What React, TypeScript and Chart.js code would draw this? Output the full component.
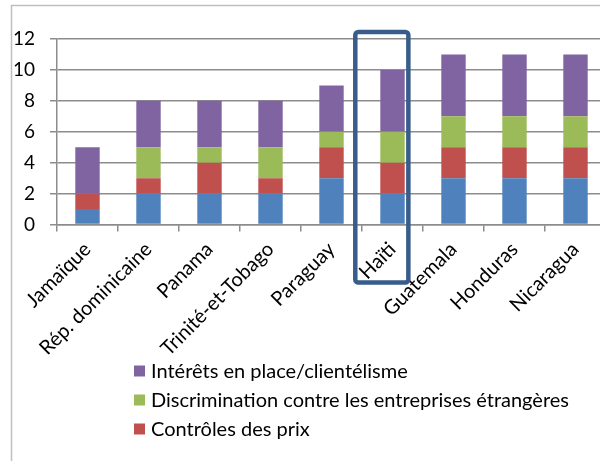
import React, { useEffect, useRef } from "react";
import { Chart, registerables } from "chart.js";

Chart.register(...registerables);

const categories = [
  "Jamaïque",
  "Rép. dominicaine",
  "Panama",
  "Trinité-et-Tobago",
  "Paraguay",
  "Haïti",
  "Guatemala",
  "Honduras",
  "Nicaragua",
];

const seriesNames = [
  "Autres obstacles",
  "Contrôles des prix",
  "Discrimination contre les entreprises étrangères",
  "Intérêts en place/clientélisme",
];

const autresObstacles = [1, 2, 2, 2, 3, 2, 3, 3, 3];
const controlesPrix = [1, 1, 2, 1, 2, 2, 2, 2, 2];
const discrimination = [0, 2, 1, 2, 1, 2, 2, 2, 2];
const interetsClientelisme = [3, 3, 3, 3, 3, 4, 4, 4, 4];

const yTicks = [0, 2, 4, 6, 8, 10, 12];
const highlighted = "Haïti";

const colors = ["#4F81BD", "#C0504D", "#9BBB59", "#8064A2"];
const FONT = "Lato, 'Open Sans', sans-serif";
const GRID = "#8C8C8C";

const framePlugin = {
  id: "frame",
  beforeDraw(chart: any) {
    const ctx = chart.ctx;
    ctx.save();
    ctx.strokeStyle = "#BFBFBF";
    ctx.lineWidth = 1.5;
    ctx.strokeRect(11.5, 5.5, chart.width + 20, chart.height + 20);
    ctx.restore();
  },
};

const highlightPlugin = {
  id: "highlight",
  afterDraw(chart: any) {
    const x = chart.scales.x;
    const y = chart.scales.y;
    const idx = categories.indexOf(highlighted);
    if (idx < 0) return;
    const cx = x.getPixelForValue(idx);
    const w = (x.right - x.left) / categories.length;
    const left = cx - 0.61 * w;
    const right = cx + 0.26 * w;
    const top = y.getPixelForValue(12) - 7;
    const bottom = y.getPixelForValue(0) + 58;
    const ctx = chart.ctx;
    ctx.save();
    ctx.strokeStyle = "#385D8A";
    ctx.lineWidth = 4.5;
    ctx.lineJoin = "round";
    ctx.beginPath();
    const r = 3;
    ctx.moveTo(left + r, top);
    ctx.lineTo(right - r, top);
    ctx.arcTo(right, top, right, top + r, r);
    ctx.lineTo(right, bottom - r);
    ctx.arcTo(right, bottom, right - r, bottom, r);
    ctx.lineTo(left + r, bottom);
    ctx.arcTo(left, bottom, left, bottom - r, r);
    ctx.lineTo(left, top + r);
    ctx.arcTo(left, top, left + r, top, r);
    ctx.closePath();
    ctx.stroke();
    ctx.restore();
  },
};

const legendPlugin = {
  id: "customLegend",
  afterDraw(chart: any) {
    const ctx = chart.ctx;
    const ds = chart.data.datasets;
    const items = ds
      .map((d: any, i: number) => ({ label: d.label, color: d.backgroundColor, i }))
      .filter((it: any) => it.i !== 0)
      .reverse();
    ctx.save();
    ctx.font = `20px ${FONT}`;
    ctx.textBaseline = "middle";
    ctx.textAlign = "left";
    items.forEach((it: any, k: number) => {
      const cy = 371 + k * 29;
      ctx.fillStyle = it.color;
      ctx.fillRect(134, cy - 5.5, 11, 11);
      ctx.fillStyle = "#000";
      ctx.fillText(it.label, 151, cy + 1);
    });
    ctx.restore();
  },
};

export default function App() {
  const ref = useRef<HTMLCanvasElement | null>(null);

  useEffect(() => {
    if (!ref.current) return;
    const series = [autresObstacles, controlesPrix, discrimination, interetsClientelisme];
    const chart = new Chart(ref.current, {
      type: "bar",
      data: {
        labels: categories,
        datasets: series.map((data, i) => ({
          label: seriesNames[i],
          data,
          backgroundColor: colors[i],
          borderWidth: 0,
          categoryPercentage: 1,
          barPercentage: 0.4,
        })),
      },
      options: {
        animation: false,
        responsive: false,
        devicePixelRatio: 1,
        layout: {
          autoPadding: false,
          padding: { left: 0, top: 39, right: 14, bottom: 106.5 },
        },
        plugins: {
          legend: { display: false },
          tooltip: { enabled: false },
        },
        scales: {
          x: {
            stacked: true,
            afterFit(scale: any) {
              scale.height = 130;
            },
            grid: {
              display: true,
              drawOnChartArea: false,
              drawTicks: true,
              tickLength: 7,
              color: GRID,
              lineWidth: 1.5,
            },
            border: { color: GRID, width: 1.5 },
            ticks: {
              autoSkip: false,
              minRotation: 45,
              maxRotation: 45,
              padding: 6,
              color: "#000",
              font: { family: FONT, size: 20 },
            },
          },
          y: {
            stacked: true,
            min: 0,
            max: 12,
            afterFit(scale: any) {
              scale.width = 57;
            },
            afterBuildTicks(scale: any) {
              scale.ticks = yTicks.map((v) => ({ value: v }));
            },
            grid: {
              color: GRID,
              lineWidth: 1.5,
              tickLength: 7,
            },
            border: { color: GRID, width: 1.5 },
            ticks: {
              padding: 15,
              color: "#000",
              font: { family: FONT, size: 19 },
            },
          },
        },
      },
      plugins: [framePlugin, highlightPlugin, legendPlugin],
    });
    return () => chart.destroy();
  }, []);

  return (
    <div
      style={{
        position: "fixed",
        left: 0,
        top: 0,
        width: 600,
        height: 461,
        overflow: "hidden",
        background: "#fff",
      }}
    >
      <canvas ref={ref} width={620} height={461} style={{ display: "block" }} />
    </div>
  );
}
